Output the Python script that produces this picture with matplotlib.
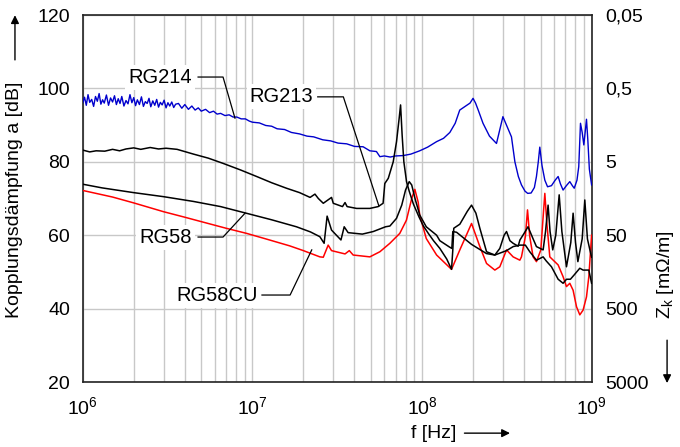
import matplotlib
matplotlib.use("Agg")
import matplotlib.pyplot as plt
import numpy as np

plt.rcParams['font.family'] = ['Liberation Sans', 'DejaVu Sans']
plt.rcParams['mathtext.fontset'] = 'custom'
plt.rcParams['mathtext.rm'] = 'Liberation Sans'
plt.rcParams['mathtext.it'] = 'Liberation Sans:italic'

# frequencies in MHz, attenuation in dB
f_rg214 = [1.0, 1.025, 1.05, 1.075, 1.1, 1.13, 1.16, 1.19, 1.22, 1.25, 1.28, 1.31, 1.34, 1.38,
           1.42, 1.46, 1.5, 1.54, 1.58, 1.62, 1.66, 1.7, 1.75, 1.8, 1.85, 1.9, 1.95, 2.0, 2.05,
           2.1, 2.16, 2.22, 2.28, 2.34, 2.4, 2.46, 2.52, 2.59, 2.66, 2.73, 2.8, 2.87, 2.94, 3.02,
           3.1, 3.18, 3.26, 3.35, 3.44, 3.53, 3.67, 3.84, 4.0, 4.2, 4.4, 4.6, 4.8, 5.0, 5.3,
           5.6, 5.9, 6.2, 6.5, 6.9, 7.3, 7.7, 8.1, 8.6, 9.1, 9.6, 10, 11, 12, 13, 14, 15.5, 17,
           19, 21, 23, 26, 29, 32, 36, 40, 45, 49.3, 53.9, 56.5, 60, 65, 70, 77.5, 86, 97, 108,
           122, 134, 146, 157, 167, 176, 185, 192, 200, 207, 215, 229, 250, 275, 285, 300, 315,
           337, 353, 370, 386, 405, 420, 440, 460, 473, 485, 495, 510, 530, 550, 580, 610, 635,
           655, 679, 710, 744, 770, 790, 820, 840, 860, 880, 900, 920, 933, 950, 970, 1000]
a_rg214 = [96.0, 97.6, 95.4, 98.3, 96.2, 97.0, 95.1, 97.8, 96.5, 98.6, 95.7, 96.9, 96.0, 98.2,
           95.4, 97.4, 96.3, 98.0, 95.6, 97.2, 95.9, 97.8, 95.2, 96.7, 95.8, 98.3, 96.1, 97.5,
           95.3, 96.9, 95.6, 97.7, 95.1, 96.4, 95.9, 97.3, 95.0, 96.6, 95.4, 97.0, 94.9, 96.2,
           95.5, 96.8, 94.7, 96.1, 95.2, 96.3, 94.8, 95.7, 95.9, 94.6, 95.6, 94.3, 95.2, 94.1,
           94.7, 93.8, 94.3, 93.4, 93.8, 93.0, 93.2, 92.6, 92.8, 92.2, 92.2, 91.7, 91.7, 91.1,
           90.8, 90.6, 89.9, 89.7, 89.0, 88.8, 88.0, 87.6, 87.0, 86.8, 86.0, 85.7, 85.1, 84.9,
           84.2, 84.1, 83.0, 82.8, 81.4, 81.6, 81.3, 81.6, 81.7, 82.1, 83.0, 84.0, 85.5, 86.4,
           88.0, 90.5, 94.1, 94.8, 95.5, 96.0, 97.3, 96.0, 94.0, 90.5, 87.0, 85.0, 88.0, 92.3,
           90.0, 86.8, 80.0, 76.0, 73.7, 72.0, 71.4, 71.5, 73.0, 76.0, 80.0, 84.0, 79.0, 75.0,
           73.2, 73.5, 75.0, 76.0, 74.0, 72.3, 73.5, 74.6, 73.5, 72.8, 75.0, 78.7, 90.5, 88.0,
           84.6, 89.0, 91.6, 86.0, 78.0, 73.7]

f_rg213 = [1.0, 1.1, 1.2, 1.35, 1.5, 1.65, 1.8, 2.0, 2.2, 2.5, 2.8, 3.1, 3.6, 4.5, 5.5, 6.7,
           8.5, 10.6, 13, 15.9, 19, 21.9, 23.4, 24.5, 26.2, 29.3, 30.0, 34.0, 35.2, 36.2, 41.2,
           49.3, 55.2, 59.0, 60.4, 63.3, 67.7, 70.8, 73.4, 74.8, 76.4, 78.2, 81.1, 84.1, 89,
           96, 102, 109, 117, 127.5, 140, 149.4, 152, 154, 167.2, 185, 196, 208, 219.4, 240.3,
           268.9, 287.7, 305, 315.2, 330, 344.6, 369, 378, 400, 422, 452, 473, 518, 535, 554,
           569, 590, 615, 644, 668, 711, 754, 778, 804, 830, 880, 912, 945, 977, 1000]
a_rg213 = [83.2, 82.7, 83.0, 82.9, 83.4, 83.0, 83.5, 83.8, 83.4, 83.9, 83.5, 83.7, 83.4, 82.1,
           81.0, 79.6, 77.8, 76.0, 74.3, 72.8, 71.6, 70.3, 71.2, 70.0, 68.7, 70.3, 68.7, 67.8,
           68.9, 67.8, 67.3, 67.3, 67.8, 68.7, 74.1, 75.5, 80.0, 85.5, 91.9, 95.5, 87.3, 80.0,
           74.6, 72.0, 68.5, 65.0, 62.5, 60.5, 58.5, 56.4, 53.5, 50.7, 56.0, 61.9, 63.0, 66.5,
           68.2, 66.0, 61.9, 55.5, 54.6, 56.4, 60.0, 61.0, 58.5, 57.8, 57.0, 58.7, 60.5, 62.3,
           59.0, 56.9, 56.0, 61.0, 68.2, 61.0, 56.0, 60.0, 71.0, 61.0, 51.4, 58.0, 66.0, 58.0,
           52.8, 59.0, 69.6, 59.0, 56.0, 54.0]

f_rg58 = [1.0, 1.3, 2.0, 3.0, 4.5, 6.5, 9.2, 13, 18.2, 22, 25, 26.5, 27.6, 29.3, 33.3, 34.8,
          36.7, 44.5, 51.6, 61, 64.7, 70.8, 76, 80, 84.1, 87, 91, 97, 106, 122, 127.5, 145,
          150, 152, 160, 196, 240, 269, 315, 345, 378, 407, 432, 473, 518, 540, 580, 635,
          679, 711, 750, 790, 852, 891, 933, 963, 1000]
a_rg58 = [73.9, 72.9, 71.6, 70.5, 69.2, 67.8, 66.0, 64.2, 62.3, 60.9, 59.6, 57.8, 65.2, 61.4,
          58.7, 62.3, 60.7, 60.3, 61.0, 62.3, 62.5, 64.6, 68.2, 72.3, 74.6, 73.7, 70.0, 65.5,
          62.3, 60.0, 58.5, 56.8, 56.4, 61.0, 60.8, 57.5, 55.0, 54.6, 55.8, 56.9, 57.3, 57.3,
          55.5, 53.2, 54.1, 53.0, 51.4, 48.0, 46.9, 48.0, 48.0, 49.2, 51.0, 50.5, 50.5, 50.5,
          46.9]

f_rg58cu = [1.0, 1.5, 2.0, 3.0, 4.0, 5.0, 7.0, 9.25, 12, 16.6, 20, 25, 26.2, 28.0, 29.3, 35.2,
            37.3, 39.3, 49.3, 56.5, 64.7, 74, 81, 87, 90.8, 95, 97, 106, 122, 147, 149.4, 167.2,
            196, 219.4, 240.3, 268.9, 287.7, 315.2, 344.6, 377.5, 386, 407, 419, 432, 452, 473,
            502, 518, 530, 545, 567, 635, 679, 711, 744, 778, 815, 852, 891, 933, 963, 1000]
a_rg58cu = [72.2, 70.4, 68.8, 66.4, 64.9, 63.7, 61.9, 60.5, 59.0, 57.1, 55.8, 54.1, 54.0, 57.3,
            55.8, 54.9, 55.8, 54.6, 54.1, 55.5, 57.8, 60.5, 64.1, 70.0, 72.5, 69.0, 65.5, 59.1,
            54.6, 51.0, 50.7, 56.0, 63.2, 56.9, 52.3, 50.5, 51.4, 56.0, 54.1, 53.2, 54.1, 59.6,
            66.9, 59.6, 54.1, 52.8, 56.0, 65.0, 71.4, 63.2, 54.1, 51.9, 48.7, 46.0, 46.9, 45.0,
            40.5, 38.3, 39.6, 43.2, 48.7, 60.0]

right_ticks = [120, 100, 80, 60, 40, 20]
right_labels = ['0,05', '0,5', '5', '50', '500', '5000']

fig = plt.figure(figsize=(6.8, 4.47), dpi=100)
ax = fig.add_axes([0.1216, 0.1454, 0.7484, 0.821])

hz = lambda f: np.array(f) * 1e6
ax.plot(hz(f_rg214), a_rg214, color='#0000cc', lw=1.0, zorder=3)
ax.plot(hz(f_rg58cu), a_rg58cu, color='#ff0000', lw=1.1, zorder=3)
ax.plot(hz(f_rg213), a_rg213, color='black', lw=1.1, zorder=3)
ax.plot(hz(f_rg58), a_rg58, color='black', lw=1.1, zorder=3)

ax.set_xscale('log')
ax.set_xlim(1e6, 1e9)
ax.set_ylim(20, 120)
ax.set_yticks([20, 40, 60, 80, 100, 120])
ax.grid(True, which='both', axis='x', color='#c8c8c8', lw=1.0)
ax.grid(True, which='major', axis='y', color='#c8c8c8', lw=1.0)
ax.set_axisbelow(True)
ax.tick_params(which='both', length=0, labelsize=14)
ax.tick_params(axis='y', pad=9)
ax.tick_params(axis='x', pad=10)
for s in ax.spines.values():
    s.set_linewidth(1.2)
    s.set_color('#222222')

ax2 = ax.twinx()
ax2.set_ylim(20, 120)
ax2.set_yticks(right_ticks)
ax2.set_yticklabels(right_labels)
ax2.tick_params(length=0, labelsize=14, pad=10)
for s in ax2.spines.values():
    s.set_visible(False)

# labels with leader lines
box = dict(boxstyle='square,pad=0.15', fc='white', ec='none')
notes = [
    ('RG214', 4.39e6, 103.1, [4.79e6, 6.72e6, 7.9e6], [103.1, 103.1, 91.9]),
    ('RG213', 2.29e7, 97.7, [2.43e7, 3.44e7, 5.57e7], [97.7, 97.7, 68.0]),
    ('RG58', 4.39e6, 59.5, [4.79e6, 6.72e6, 9.06e6], [59.5, 59.5, 66.0]),
    ('RG58CU', 1.08e7, 43.7, [1.14e7, 1.67e7, 2.24e7], [43.7, 43.7, 56.0]),
]
for txt, tx, ty, lx, ly in notes:
    ax.text(tx, ty, txt, ha='right', va='center', fontsize=14.5, bbox=box, zorder=5)
    ax.plot(lx, ly, color='black', lw=0.9, zorder=5)

# axis titles with arrows
fig.text(0.022, 0.553, 'Kopplungsdämpfung a [dB]', rotation=90, ha='center', va='center', fontsize=14)
fig.text(0.978, 0.385, r'Z$_\mathrm{k}$ [mΩ/m]', rotation=90, ha='center', va='center', fontsize=14)
fig.text(0.638, 0.031, 'f [Hz]', ha='center', va='center', fontsize=14)
arrow = dict(arrowstyle='-|>', color='black', lw=1.0, mutation_scale=12, shrinkA=0, shrinkB=0)
fig.add_artist(matplotlib.patches.FancyArrowPatch((0.022, 0.866), (0.022, 0.966),
               transform=fig.transFigure, **arrow))
fig.add_artist(matplotlib.patches.FancyArrowPatch((0.981, 0.239), (0.981, 0.143),
               transform=fig.transFigure, **arrow))
fig.add_artist(matplotlib.patches.FancyArrowPatch((0.683, 0.031), (0.75, 0.031),
               transform=fig.transFigure, **arrow))

fig.savefig('out.png', dpi=100)
